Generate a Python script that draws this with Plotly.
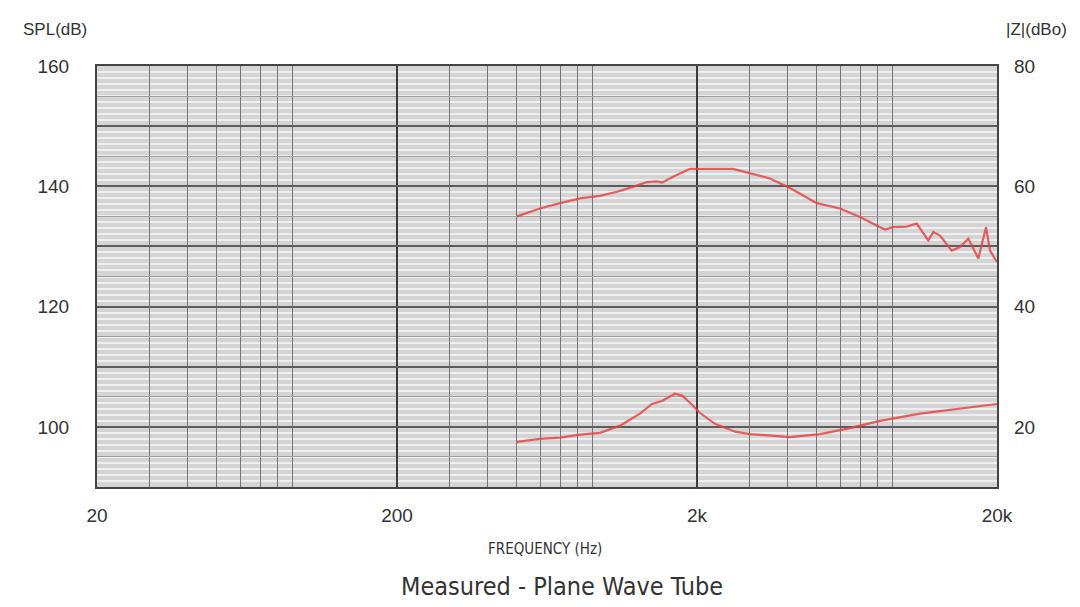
import plotly.graph_objects as go

# SPL curve (left axis, dB)
spl_freq = [502, 599, 699, 815, 950, 1083, 1224, 1363, 1471, 1529, 1664, 1895, 2636, 3004, 3502,
            4083, 4409, 5012, 5994, 6988, 8147, 8466, 9005, 10000, 10797, 11803, 12266, 12914,
            14125, 15058, 16046, 17327, 18385, 18958, 20000]
spl_db = [135.0, 136.3, 137.2, 138.0, 138.4, 139.1, 139.9, 140.7, 140.8, 140.6, 141.6, 142.9, 142.9,
          142.2, 141.3, 139.7, 138.8, 137.2, 136.3, 134.9, 133.2, 132.8, 133.2, 133.3, 133.8,
          131.0, 132.4, 131.8, 129.3, 129.9, 131.3, 128.0, 133.2, 129.3, 127.4]

# Impedance curve (right axis, dBo)
z_freq = [502, 599, 699, 815, 950, 1108, 1291, 1416, 1529, 1689, 1783, 1895, 2047, 2296, 2679,
          3004, 4083, 5140, 6471, 8147, 11078, 15058, 20000]
z_dbo = [17.5, 18.0, 18.2, 18.7, 19.0, 20.2, 22.2, 23.8, 24.3, 25.5, 25.2, 24.0, 22.3, 20.5, 19.2,
         18.8, 18.3, 18.8, 19.8, 21.0, 22.2, 23.0, 23.8]

x_major = [20, 200, 2000, 20000]
x_major_text = ["20", "200", "2k", "20k"]
x_minor = [m * d for d in (10, 100, 1000, 10000) for m in range(2, 10)]
x_minor = [v for v in x_minor if 20 <= v <= 20000 and v not in x_major]

left_vals = [90, 95, 100, 105, 110, 115, 120, 125, 130, 135, 140, 145, 150, 155, 160]
left_text = ["", "", "100", "", "", "", "120", "", "", "", "140", "", "", "", "160"]
right_vals = [10, 20, 30, 40, 50, 60, 70, 80]
right_text = ["", "20", "", "40", "", "60", "", "80"]

line_color = "rgba(232,64,64,0.82)"
font_main = "Liberation Sans, Arial, sans-serif"
font_narrow = "DejaVu Sans Condensed, Liberation Sans Narrow, Arial Narrow, sans-serif"

# page body has an 8px margin: shrink figure so the plot area lands where the reference has it
OFF = 8
W, H = 1080 - OFF, 607 - OFF
pl, pr, pt, pb = 97 - OFF, 83, 66 - OFF, 120

fig = go.Figure()
fig.add_trace(go.Scatter(x=spl_freq, y=spl_db, mode="lines",
                         line=dict(color=line_color, width=2.2), xaxis="x", yaxis="y",
                         showlegend=False))
fig.add_trace(go.Scatter(x=z_freq, y=z_dbo, mode="lines",
                         line=dict(color=line_color, width=2.2), xaxis="x2", yaxis="y2",
                         showlegend=False))

xr = [1.30103, 4.30103]
fig.update_layout(
    width=W, height=H,
    margin=dict(l=pl, r=pr, t=pt, b=pb),
    paper_bgcolor="white",
    plot_bgcolor="#d4d4d4",
    font=dict(family=font_main, color="#333333", size=19),
    xaxis=dict(
        type="log", range=xr,
        tickmode="array", tickvals=x_major, ticktext=x_major_text,
        showgrid=False,
        showline=True, mirror=True, linecolor="#444444", linewidth=2,
        ticks="", ticklabelstandoff=10, tickfont=dict(size=19, color="#333333"),
        zeroline=False,
    ),
    xaxis2=dict(
        type="log", range=xr, overlaying="x", side="bottom",
        tickmode="array", tickvals=x_major, showticklabels=False,
        showgrid=True, gridcolor="#3c3c3c", gridwidth=1.6,
        minor=dict(tickmode="array", tickvals=x_minor, showgrid=True,
                   gridcolor="#767676", gridwidth=1.3),
        ticks="", zeroline=False,
    ),
    yaxis=dict(
        range=[90, 160], tickmode="array", tickvals=left_vals, ticktext=left_text,
        showgrid=True, gridcolor="#a0a0a0", gridwidth=1.3,
        minor=dict(dtick=1, tick0=90, showgrid=True, gridcolor="#efefef", gridwidth=1.6),
        showline=True, mirror=True, linecolor="#444444", linewidth=2,
        ticks="", ticklabelstandoff=22, tickfont=dict(size=19, color="#333333"),
        zeroline=False,
    ),
    yaxis2=dict(
        range=[10, 80], overlaying="y", side="right",
        tickmode="array", tickvals=right_vals, ticktext=right_text,
        showgrid=True, gridcolor="#5c5c5c", gridwidth=1.5,
        ticks="", ticklabelstandoff=16, tickfont=dict(size=19, color="#333333"),
        zeroline=False,
    ),
)

# annotations placed at reference pixel positions (page coords), converted to paper coords
ann_specs = [
    ("SPL(dB)", 55, 30, 17, font_main),
    ("|Z|(dBo)", 1036, 30, 17, font_main),
    ("FREQUENCY (Hz)", 545, 549, 15, font_narrow),
    ("Measured - Plane Wave Tube", 562, 586, 25, font_narrow),
]
pw, ph = W - pl - pr, H - pt - pb
x0, y0 = OFF + pl, OFF + pt
for text, px, py, size, fam in ann_specs:
    fig.add_annotation(text=text, xref="paper", yref="paper",
                       x=(px - x0) / pw, y=1 - (py - y0) / ph,
                       xanchor="center", yanchor="middle", showarrow=False,
                       font=dict(size=size, color="#333333", family=fam))

fig.write_html("out.html")
